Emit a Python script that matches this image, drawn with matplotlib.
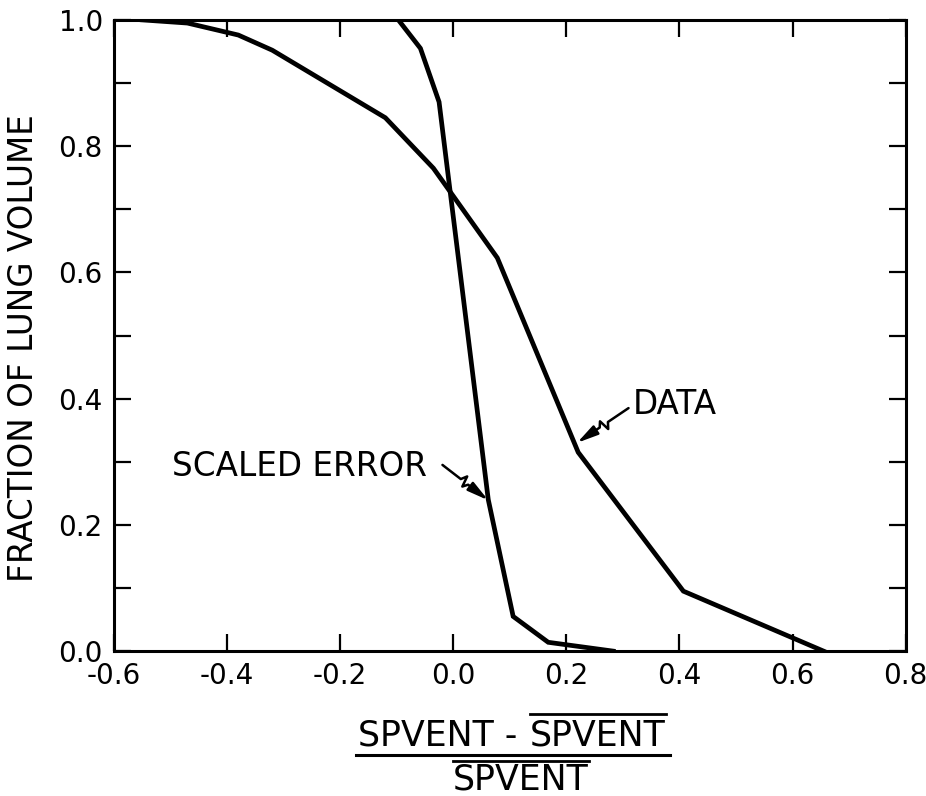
import numpy as np
import matplotlib
matplotlib.use("Agg")
import matplotlib.pyplot as plt
from matplotlib.lines import Line2D

# curves
data_x = [-0.55, -0.47, -0.38, -0.32, -0.12, -0.035, 0.078, 0.221, 0.407, 0.655]
data_y = [1.0, 0.995, 0.976, 0.952, 0.845, 0.765, 0.623, 0.315, 0.095, 0.0]
err_x = [-0.097, -0.058, -0.025, 0.062, 0.106, 0.168, 0.283]
err_y = [1.0, 0.955, 0.87, 0.24, 0.055, 0.014, 0.0]

x_ticks = [-0.6, -0.4, -0.2, 0.0, 0.2, 0.4, 0.6, 0.8]
y_ticks = [0.0, 0.2, 0.4, 0.6, 0.8, 1.0]

plt.rcParams['font.family'] = ['DejaVu Sans']

W, H = 926, 796
fig = plt.figure(figsize=(W / 100, H / 100), dpi=100)
ax = fig.add_axes([0.123, 0.182, 0.855, 0.793])

ax.plot(data_x, data_y, color='black', lw=3.4, solid_joinstyle='miter')
ax.plot(err_x, err_y, color='black', lw=3.4, solid_joinstyle='miter')

ax.set_xlim(-0.6, 0.8)
ax.set_ylim(0.0, 1.0)
ax.set_xticks(x_ticks)
ax.set_xticklabels(['%.1f' % v for v in x_ticks])
ax.set_yticks(y_ticks)
ax.set_yticklabels(['%.1f' % v for v in y_ticks])
ax.set_yticks(np.arange(0.1, 1.0, 0.2), minor=True)
ax.tick_params(which='both', direction='in', top=True, right=True,
               length=12, width=1.6, labelsize=20, pad=8)
for s in ax.spines.values():
    s.set_linewidth(2.2)

ax.set_ylabel('FRACTION OF LUNG VOLUME', fontsize=23.5)
ax.yaxis.set_label_coords(-0.093, 0.48)


def squiggle_arrow(tail, head):
    # straight pointer with a small zigzag in the middle, drawn in pixel space
    p0 = ax.transData.transform(tail)
    p1 = ax.transData.transform(head)
    d = p1 - p0
    n = np.array([-d[1], d[0]]) / np.hypot(*d)
    pts = [p0, p0 + 0.40 * d, p0 + 0.46 * d + 6 * n, p0 + 0.50 * d - 5 * n,
           p0 + 0.56 * d, p0 + 0.78 * d]
    pts = ax.transData.inverted().transform(np.array(pts))
    ax.plot(pts[:, 0], pts[:, 1], color='black', lw=1.8, solid_capstyle='round')
    ax.annotate('', xy=head, xytext=tuple(pts[-1]),
                arrowprops=dict(arrowstyle='-|>,head_length=0.9,head_width=0.22',
                                color='black', lw=1.8, mutation_scale=14,
                                shrinkA=0, shrinkB=0))


ax.text(-0.497, 0.293, 'SCALED ERROR', fontsize=23.5, va='center', ha='left')
squiggle_arrow((-0.019, 0.295), (0.062, 0.239))
ax.text(0.317, 0.39, 'DATA', fontsize=23.5, va='center', ha='left')
squiggle_arrow((0.31, 0.385), (0.219, 0.33))

# x label as a fraction with overlines
def fy(py):
    return 1 - py / H

num_left = fig.text(517 / W, fy(735), 'SPVENT -', fontsize=25, ha='right', va='center')
num_right = fig.text(530 / W, fy(735), 'SPVENT', fontsize=25, ha='left', va='center')
den = fig.text(521 / W, fy(779), 'SPVENT', fontsize=25, ha='center', va='center')
fig.canvas.draw()
r = fig.canvas.get_renderer()
for t, oy in [(num_right, 714), (den, 761)]:
    bb = t.get_window_extent(r)
    fig.add_artist(Line2D([bb.x0 / W, bb.x1 / W], [fy(oy), fy(oy)], color='black', lw=2.0))
bl = num_left.get_window_extent(r)
br = num_right.get_window_extent(r)
fig.add_artist(Line2D([(bl.x0 - 2) / W, (br.x1 + 4) / W], [fy(755), fy(755)],
                      color='black', lw=2.2))

fig.savefig('out.png', dpi=100)
